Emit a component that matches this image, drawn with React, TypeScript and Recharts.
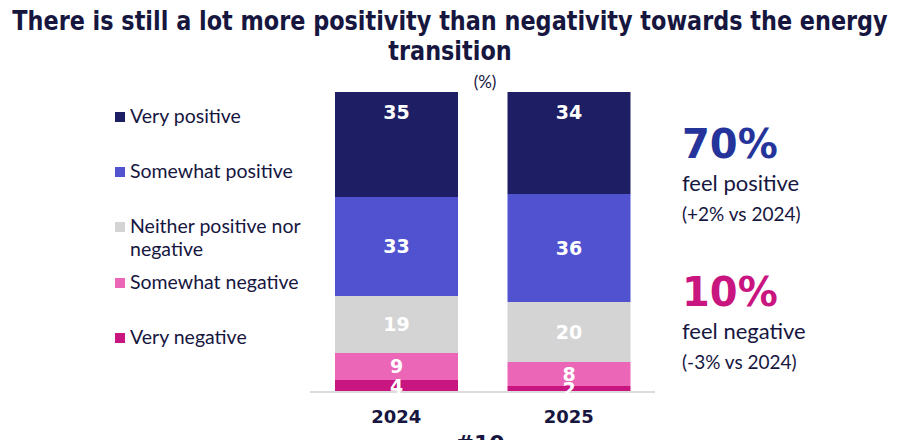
import { BarChart, Bar, XAxis, YAxis, LabelList } from "recharts"

const years = ["2024", "2025"]
const veryPositive = [35, 34]
const somewhatPositive = [33, 36]
const neitherNor = [19, 20]
const somewhatNegative = [9, 8]
const veryNegative = [4, 2]

const seriesNames = [
  "Very positive",
  "Somewhat positive",
  "Neither positive nor negative",
  "Somewhat negative",
  "Very negative",
]
const seriesKeys = ["veryPositive", "somewhatPositive", "neitherNor", "somewhatNegative", "veryNegative"]
const seriesColors = ["#1e1e64", "#5052cf", "#d4d4d4", "#ec66b8", "#c8157f"]

const summaryValues = ["70%", "10%"]
const summaryLabels = ["feel positive", "feel negative"]
const summaryChanges = ["(+2% vs 2024)", "(-3% vs 2024)"]

const chartData = years.map((year, i) => ({
  year,
  veryPositive: veryPositive[i],
  somewhatPositive: somewhatPositive[i],
  neitherNor: neitherNor[i],
  somewhatNegative: somewhatNegative[i],
  veryNegative: veryNegative[i],
}))

const navy = "#16163f"
const numFont = "'DejaVu Sans', sans-serif"
const textFont = "Lato, 'Noto Sans', sans-serif"

// legend rows: top offsets (px) for each entry
const legendTops = [104, 159, 214, 270, 325]

export default function App() {
  // draw stack bottom-up: very negative first
  const order = [4, 3, 2, 1, 0]

  return (
    <div
      style={{
        position: "absolute",
        left: 0,
        top: 0,
        width: 900,
        height: 440,
        overflow: "hidden",
        background: "#fff",
        fontFamily: textFont,
        color: navy,
      }}
    >
      <div
        style={{
          position: "absolute",
          left: -250,
          top: 6,
          width: 1400,
          textAlign: "center",
          whiteSpace: "nowrap",
          fontFamily: "'DejaVu Sans', sans-serif",
          fontWeight: 700,
          fontSize: 26,
          lineHeight: "30px",
          transform: "scaleX(0.86)",
          transformOrigin: "700px 0",
        }}
      >
        There is still a lot more positivity than negativity towards the energy
        <br />
        transition
      </div>
      <div
        style={{
          position: "absolute",
          left: 460,
          top: 71,
          width: 50,
          textAlign: "center",
          fontSize: 17,
          lineHeight: "22px",
        }}
      >
        (%)
      </div>

      {seriesNames.map((name, i) => (
        <div
          key={name}
          style={{
            position: "absolute",
            left: 115,
            top: legendTops[i],
            width: 210,
            fontSize: 19.5,
            lineHeight: "23px",
            display: "flex",
            alignItems: "flex-start",
          }}
        >
          <span
            style={{
              display: "inline-block",
              width: 10,
              height: 10,
              marginTop: 8,
              marginRight: 5,
              flex: "none",
              background: seriesColors[i],
            }}
          />
          <span style={{ width: 185 }}>{name}</span>
        </div>
      ))}

      {summaryValues.map((v, i) => (
        <div
          key={v}
          style={{ position: "absolute", left: 682, top: i === 0 ? 121 : 269 }}
        >
          <div
            style={{
              fontFamily: numFont,
              fontWeight: 700,
              fontSize: 40,
              lineHeight: "46px",
              color: i === 0 ? "#25349a" : "#c9157f",
            }}
          >
            {v}
          </div>
          <div style={{ fontSize: 22, lineHeight: "32px" }}>{summaryLabels[i]}</div>
          <div style={{ fontSize: 19, lineHeight: "30px" }}>{summaryChanges[i]}</div>
        </div>
      ))}

      <div
        style={{
          position: "absolute",
          left: 430,
          top: 431,
          width: 100,
          textAlign: "center",
          fontFamily: numFont,
          fontWeight: 700,
          fontSize: 22,
          lineHeight: "26px",
        }}
      >
        #10
      </div>

      <div style={{ position: "absolute", left: 0, top: 0 }}>
        <BarChart
          width={900}
          height={440}
          data={chartData}
          margin={{ top: 92, right: 245, left: 310, bottom: 18 }}
          barCategoryGap={25}
        >
          <XAxis
            dataKey="year"
            height={30}
            tickLine={false}
            axisLine={{ stroke: "#dcdcdc", strokeWidth: 2 }}
            tick={{ fill: navy, fontSize: 18, fontWeight: 700, fontFamily: numFont }}
            tickMargin={12}
          />
          <YAxis hide domain={[0, 100]} />
          {order.map((idx) => (
            <Bar
              key={seriesKeys[idx]}
              dataKey={seriesKeys[idx]}
              stackId="a"
              fill={seriesColors[idx]}
              isAnimationActive={false}
            >
              <LabelList
                dataKey={seriesKeys[idx]}
                position={idx === 0 ? "insideTop" : "center"}
                offset={idx === 0 ? 14 : 5}
                fill="#fff"
                style={{ fontFamily: numFont, fontWeight: 700, fontSize: 19 }}
              />
            </Bar>
          ))}
        </BarChart>
      </div>
    </div>
  )
}
